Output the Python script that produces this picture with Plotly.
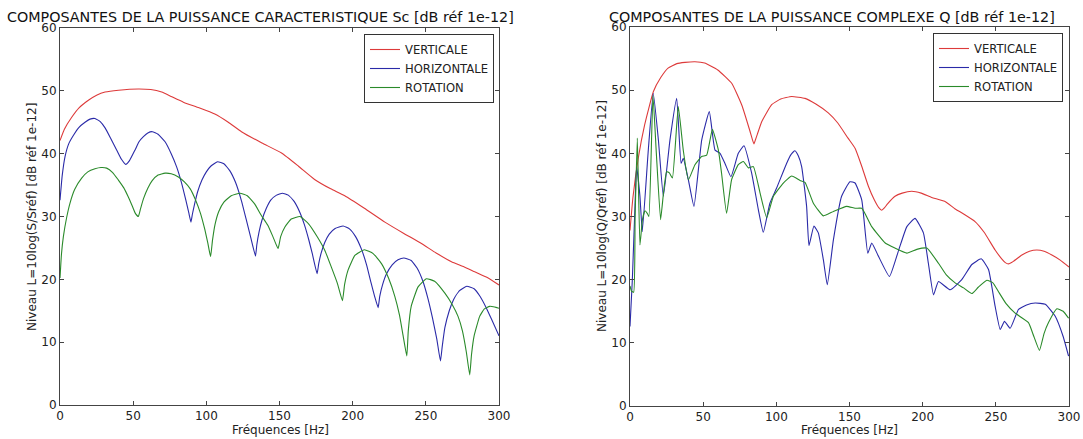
import plotly.graph_objects as go

# ---------------- Left chart: puissance caractéristique Sc ----------------
sc_vert_f = [0, 3, 8, 13, 19.4, 25, 30.8, 40, 53.5, 62, 69.5, 76, 84.3, 95, 105.8, 115, 124, 138, 151.4,
             163, 174, 185, 194.6, 208, 222, 235, 247, 257, 267.5, 276, 283.4, 292, 300]
sc_vert_v = [42.1, 43.9, 45.8, 47.3, 48.5, 49.3, 49.8, 50.1, 50.3, 50.2, 49.8, 49.1, 48.2, 47.3, 46.3, 45.0, 43.5, 41.7, 40.1,
             38.0, 35.9, 34.4, 33.3, 31.3, 29.1, 27.3, 25.7, 24.2, 22.8, 22.0, 21.2, 20.3, 19.1]

sc_hor_f = [0, 1.5, 3.4, 6, 9.1, 13, 17.1, 20.5, 23.9, 27.5, 30.8, 34.5, 38.7, 42, 44.9, 47.5, 51.3, 54,
            57, 60, 63.1, 67, 71.8, 76, 79.7, 83, 86, 88, 89.5,
            90.5, 92, 94, 97, 100, 103, 107.7, 112, 116, 120, 124, 127.5, 130.5, 133.6,
            134.5, 136, 138, 141, 144, 148, 152, 156, 160, 164, 167, 170, 172.5, 175.7,
            176.8, 178.5, 181, 184, 188, 193.5, 198, 202, 206, 209.5, 212.5, 215, 217.4,
            218.5, 220.5, 223, 227, 231, 235, 240, 244, 248, 251.5, 254.5, 257.5, 260,
            261.2, 263, 266, 269, 273, 278, 283, 287, 291, 295, 300]
sc_hor_v = [32.6, 36.5, 39.5, 41.6, 42.9, 44.2, 45.0, 45.5, 45.6, 45.1, 44.1, 42.5, 40.6, 39.1, 38.3, 38.9, 40.6, 41.9,
            42.7, 43.3, 43.5, 43.1, 41.9, 40.0, 37.9, 35.4, 32.6, 30.6, 29.1,
            30.4, 32.0, 33.9, 35.8, 37.1, 38.0, 38.7, 38.4, 37.3, 35.4, 32.5, 29.3, 26.5, 23.7,
            25.5, 27.5, 29.4, 31.3, 32.6, 33.4, 33.7, 33.4, 32.4, 30.6, 28.7, 26.3, 24.0, 20.9,
            22.5, 24.2, 25.9, 27.2, 28.1, 28.5, 28.0, 26.8, 24.8, 22.3, 19.5, 17.3, 15.5,
            17.3, 19.2, 20.8, 22.3, 23.1, 23.4, 23.0, 21.8, 19.7, 16.9, 13.9, 10.5, 7.0,
            9.3, 12.3, 15.0, 16.8, 18.2, 18.9, 18.5, 17.3, 15.6, 13.6, 11.0]

sc_rot_f = [0, 1, 2.3, 4.5, 6.8, 10, 14.8, 19, 23.9, 28, 31.9, 36, 39.9, 43.5, 46.7, 49.5, 51.5, 53.5,
            55, 57, 60, 63, 67, 71.8, 76, 80.9, 85, 89, 92.5, 96, 99, 101, 102.9,
            104.2, 106, 108.5, 112, 117, 123, 128, 133, 137.5, 142, 145.5, 149,
            150.8, 153.6, 158, 164, 170, 176, 181, 185.5, 189.5, 193,
            194.5, 196.9, 201.5, 208, 214, 219.7, 224.5, 228.8, 232, 234.5, 237,
            238, 240, 244.7, 250.4, 256, 263, 268, 272, 275, 277.7, 280,
            281.2, 283, 286.8, 290, 293.6, 297, 300]
sc_rot_v = [20.2, 24.0, 26.8, 29.8, 32.1, 34.3, 36.1, 37.1, 37.6, 37.8, 37.7, 37.0, 35.8, 34.6, 33.1, 31.6, 30.5, 30.0,
            31.2, 32.8, 34.5, 35.7, 36.6, 36.9, 36.8, 36.3, 35.5, 34.4, 32.7, 30.5, 27.9, 25.8, 23.6,
            26.2, 28.8, 30.8, 32.3, 33.3, 33.7, 33.3, 32.0, 30.2, 28.6, 26.8, 24.9,
            26.8, 28.3, 29.6, 30.0, 28.8, 26.7, 24.6, 21.9, 19.4, 16.6,
            19.2, 21.5, 23.8, 24.7, 24.1, 22.5, 20.2, 17.3, 14.3, 11.0, 7.8,
            11.8, 15.7, 18.8, 20.1, 19.7, 17.8, 16.0, 14.1, 11.8, 8.4, 4.8,
            8.0, 11.0, 14.1, 15.3, 15.7, 15.6, 15.4]

# ---------------- Right chart: puissance complexe Q ----------------
q_vert_f = [0, 2, 5.7, 10, 16, 21, 26, 32, 37.6, 44.4, 51, 60, 69.5, 76.3, 82, 83.6, 84.7, 85.8, 87, 90, 96.8,
            103, 110.5, 119.6, 127, 135.5, 142, 149, 153.8, 158, 162.9, 167, 170, 172, 174, 176, 181.1, 186,
            192.5, 199, 206.2, 215, 222.2, 228, 235.8, 242, 249.5, 254, 256.5, 258.6, 262, 267.8, 273,
            278, 283, 288.3, 294, 300]
q_vert_v = [27.8, 33.0, 39.3, 44.5, 49.8, 52.0, 53.5, 54.2, 54.4, 54.5, 54.3, 53.2, 51.1, 47.7, 43.5, 42.2, 41.5, 42.2, 43.0, 45.0, 47.7,
            48.6, 49.0, 48.7, 47.8, 46.4, 44.8, 42.4, 40.8, 38.2, 34.8, 32.6, 31.4, 31.0, 31.4, 32.0, 33.2, 33.7,
            34.0, 33.7, 33.0, 32.4, 31.2, 30.4, 29.2, 27.5, 24.7, 23.3, 22.7, 22.5, 22.9, 23.9, 24.5,
            24.7, 24.5, 23.9, 23.1, 22.0]

q_hor_f = [0, 1.6, 3.4, 4.5, 6.8, 8.4, 12.5, 15.9, 19.4, 22.8, 27.3, 31.9, 34.9, 36.4, 39.9, 43.7,
           49, 54.2, 58.1, 61.5, 64.9, 69, 74, 77.9, 83.1, 87.7, 91.1, 95.6, 100.2, 107, 110, 112.7,
           115, 117.3, 120.7, 122.3, 125.7, 128.7, 132.1, 134.8, 139, 144.6, 150.3, 153.8, 158.4, 162.5,
           165.2, 169.8, 177.3, 183.5, 189.2, 194.8, 200.5, 203.9, 207.4, 210.8, 218.8, 226.7,
           233.6, 240, 245, 249.5, 253, 255.9, 259.8, 265.5, 271, 276.9, 283.8, 290.6, 296, 299.7]
q_hor_v = [12.6, 20.0, 31.6, 37.9, 33.2, 27.6, 40.5, 49.5, 42.1, 33.2, 42.1, 48.7, 38.4, 39.2, 35.8, 31.6,
           42.1, 46.6, 40.5, 40.0, 38.4, 36.3, 40.0, 41.2, 36.9, 31.1, 27.5, 32.1, 34.5, 38.4, 39.8, 40.4,
           39.6, 37.9, 31.6, 25.4, 28.5, 27.4, 23.2, 19.2, 26.3, 33.2, 35.5, 35.3, 32.6, 24.2,
           25.8, 23.7, 20.5, 24.6, 28.4, 29.7, 27.4, 22.6, 17.6, 19.7, 18.4, 20.0,
           22.4, 23.3, 21.6, 15.8, 12.1, 13.4, 12.3, 15.3, 16.0, 16.3, 16.1, 14.2, 11.0, 7.9]

q_rot_f = [0, 1, 2.5, 3.5, 5, 6.8, 8.5, 10.2, 11.8, 12.9, 15.7, 18, 20.9, 23, 25, 26.9, 29, 33,
           36.4, 39.9, 44.4, 49, 52.4, 56.3, 60.4, 62.6, 66, 69.4, 74, 77.5, 80.9, 84.3, 88.9,
           93.4, 98, 104.8, 110.5, 116.2, 119.6, 125.3, 132.1, 139, 148, 153.8, 158.4, 165.2,
           174.4, 181, 189.2, 196, 202.8, 210.8, 216, 222.2, 228, 233.6, 238, 243.9, 248, 251.8,
           257, 263.2, 272.3, 276, 279.8, 283, 286, 291.7, 296, 299.7]
q_rot_v = [19.0, 18.2, 18.0, 30.0, 42.4, 25.5, 29.5, 30.9, 30.5, 30.0, 49.2, 40.0, 29.5, 34.0, 37.1, 36.9, 36.1, 47.4,
           40.5, 35.8, 38.2, 39.5, 39.7, 43.8, 40.5, 36.8, 30.5, 35.8, 38.2, 38.7, 37.7, 37.9, 33.7,
           29.8, 33.2, 35.3, 36.4, 35.7, 35.4, 32.1, 30.1, 30.8, 31.6, 31.3, 31.3, 28.4,
           25.8, 25.0, 24.2, 24.8, 25.0, 22.6, 20.8, 19.5, 18.7, 17.8, 18.8, 19.9, 19.5, 18.1,
           16.2, 14.7, 13.2, 11.0, 8.8, 11.5, 13.2, 15.4, 15.0, 13.9]

series_names = ["VERTICALE", "HORIZONTALE", "ROTATION"]
colors = ["#dd3a3a", "#2a2aa8", "#2a8a2a"]

x_ticks = [0, 50, 100, 150, 200, 250, 300]
y_ticks = [0, 10, 20, 30, 40, 50, 60]

W, H = 1083, 439
FONT = "DejaVu Sans"

fig = go.Figure()

left = [(sc_vert_f, sc_vert_v), (sc_hor_f, sc_hor_v), (sc_rot_f, sc_rot_v)]
right = [(q_vert_f, q_vert_v), (q_hor_f, q_hor_v), (q_rot_f, q_rot_v)]

for (f, v), name, c in zip(left, series_names, colors):
    fig.add_trace(go.Scatter(x=f, y=v, mode="lines", name=name,
                             line=dict(color=c, width=1.1, shape="spline", smoothing=0.4),
                             xaxis="x", yaxis="y", legend="legend"))
for (f, v), name, c in zip(right, series_names, colors):
    fig.add_trace(go.Scatter(x=f, y=v, mode="lines", name=name,
                             line=dict(color=c, width=1.1, shape="spline", smoothing=0.4),
                             xaxis="x2", yaxis="y2", legend="legend2"))

def px_x(p):
    return p / W

def px_y(p):
    return 1 - p / H

axis_common = dict(
    showline=True, linecolor="#444", linewidth=1, mirror="ticks",
    ticks="inside", ticklen=4, tickcolor="#444", tickwidth=1,
    showgrid=False, zeroline=False, automargin=False,
    tickfont=dict(family=FONT, size=12, color="#222"),
)

fig.update_layout(
    width=W, height=H,
    margin=dict(l=0, r=0, t=0, b=0, pad=0),
    paper_bgcolor="white", plot_bgcolor="white",
    font=dict(family=FONT, size=12, color="#222"),
    xaxis=dict(domain=[px_x(60), px_x(499)], range=[0, 300], tickvals=x_ticks, anchor="y", **axis_common),
    yaxis=dict(domain=[px_y(405), px_y(28)], range=[0, 60], tickvals=y_ticks, anchor="x", **axis_common),
    xaxis2=dict(domain=[px_x(630), px_x(1069)], range=[0, 300], tickvals=x_ticks, anchor="y2", **axis_common),
    yaxis2=dict(domain=[px_y(406), px_y(27)], range=[0, 60], tickvals=y_ticks, anchor="x2", **axis_common),
    legend=dict(x=px_x(494), xanchor="right", y=px_y(34), yanchor="top",
                bordercolor="#333", borderwidth=1, bgcolor="white",
                font=dict(family=FONT, size=11.6, color="#222"), tracegroupgap=0),
    legend2=dict(x=px_x(1063), xanchor="right", y=px_y(33), yanchor="top",
                 bordercolor="#333", borderwidth=1, bgcolor="white",
                 font=dict(family=FONT, size=11.6, color="#222"), tracegroupgap=0),
    showlegend=True,
)

annotations = [
    dict(text="COMPOSANTES DE LA PUISSANCE CARACTERISTIQUE Sc [dB réf 1e-12]",
         x=px_x(260), y=px_y(17), xanchor="center", yanchor="middle",
         font=dict(family=FONT, size=14.3, color="#111")),
    dict(text="COMPOSANTES DE LA PUISSANCE COMPLEXE Q [dB réf 1e-12]",
         x=px_x(832), y=px_y(17), xanchor="center", yanchor="middle",
         font=dict(family=FONT, size=14.3, color="#111")),
    dict(text="Fréquences [Hz]", x=px_x(280), y=px_y(430), xanchor="center", yanchor="middle",
         font=dict(family=FONT, size=12, color="#222")),
    dict(text="Fréquences [Hz]", x=px_x(850), y=px_y(430), xanchor="center", yanchor="middle",
         font=dict(family=FONT, size=12, color="#222")),
    dict(text="Niveau L=10log(S/Sréf) [dB réf 1e-12]", x=px_x(32), y=px_y(217), textangle=-90,
         xanchor="center", yanchor="middle", font=dict(family=FONT, size=12, color="#222")),
    dict(text="Niveau L=10log(Q/Qréf) [dB réf 1e-12]", x=px_x(602), y=px_y(216), textangle=-90,
         xanchor="center", yanchor="middle", font=dict(family=FONT, size=12, color="#222")),
]
for a in annotations:
    a.update(xref="paper", yref="paper", showarrow=False)
fig.update_layout(annotations=annotations)

fig.write_html("out.html", config={"displayModeBar": False},
               post_script="document.body.style.margin='0';document.body.style.overflow='hidden';")
